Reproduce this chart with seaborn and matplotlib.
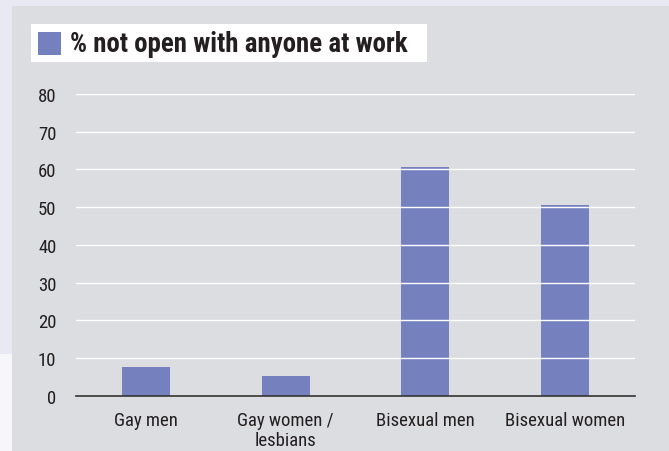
import matplotlib
matplotlib.use("Agg")
import os
import matplotlib.pyplot as plt
from matplotlib.patches import Rectangle
from matplotlib import font_manager
from matplotlib.font_manager import FontProperties
import seaborn as sns
import pandas as pd

# Data
categories = ["Gay men", "Gay women /\nlesbians", "Bisexual men", "Bisexual women"]
values = [7.6, 5.3, 60.6, 50.5]
series_name = "% not open with anyone at work"
y_ticks = [0, 10, 20, 30, 40, 50, 60, 70, 80]

BAR = "#7581bf"
PANEL = "#dcdde0"
OUTER = "#e9e9f3"
INK = "#231f20"

sns.set_theme(style="white")
plt.rcParams["font.family"] = ["DejaVu Sans"]


def find_font(candidates):
    """Return the path of the first installed font file whose name matches."""
    files = [f.fname for f in font_manager.fontManager.ttflist]
    for cand in candidates:
        for path in files:
            if os.path.basename(path).lower() == cand.lower():
                return path
    return None


regular_path = find_font(["LiberationSansNarrow-Regular.ttf", "RobotoCondensed-Regular.ttf",
                          "OpenSans_Condensed-Regular.ttf", "DejaVuSansCondensed.ttf"])
bold_path = find_font(["LiberationSansNarrow-Bold.ttf", "RobotoCondensed-Bold.ttf",
                       "OpenSans_Condensed-Bold.ttf", "DejaVuSansCondensed-Bold.ttf"])
reg_fp = FontProperties(fname=regular_path) if regular_path else FontProperties(family="DejaVu Sans")
bold_fp = FontProperties(fname=bold_path) if bold_path else FontProperties(family="DejaVu Sans", weight="bold")

W, H = 669, 452
fig = plt.figure(figsize=(W / 100, H / 100), dpi=100)
fig.patch.set_facecolor(OUTER)


def px_rect(x0, y0, x1, y1, **kw):
    """Rectangle given in figure pixel coordinates (origin top-left)."""
    return Rectangle((x0 / W, 1 - y1 / H), (x1 - x0) / W, (y1 - y0) / H,
                     transform=fig.transFigure, figure=fig, **kw)


# Grey panel and page strip
fig.patches.append(px_rect(12, 7, W, H, facecolor=PANEL, edgecolor="none", zorder=-2))
fig.patches.append(px_rect(0, 355, 12, H, facecolor="#f7f7fa", edgecolor="none", zorder=-2))

# Legend box
fig.patches.append(px_rect(31, 25, 427, 62.7, facecolor="white", edgecolor="none", zorder=-1))
fig.patches.append(px_rect(38, 32.7, 61, 55.7, facecolor=BAR, edgecolor="none", zorder=-1))
title_fp = bold_fp.copy()
title_fp.set_size(19.4)
fig.text(70 / W, 1 - 44.5 / H, series_name, fontproperties=title_fp,
         color=INK, va="center", ha="left")

# Plot area
ax = fig.add_axes([76 / W, 1 - 396.8 / H, 559 / W, (396.8 - 95) / H])
ax.set_facecolor("none")
ax.set_zorder(5)

df = pd.DataFrame({"category": categories, "value": values})
sns.barplot(data=df, x="category", y="value", color=BAR, saturation=1,
            width=0.343, ax=ax, zorder=2, edgecolor="none")

ax.set_xlim(-0.5, len(categories) - 0.5)
ax.set_ylim(0, 80)
ax.set_xlabel("")
ax.set_ylabel("")

# White gridlines over bars
for t in y_ticks[1:]:
    ax.axhline(t, color="white", linewidth=1.0, zorder=3)

for side in ["left", "right", "top"]:
    ax.spines[side].set_visible(False)
ax.spines["bottom"].set_color("#333333")
ax.spines["bottom"].set_linewidth(1.2)
ax.spines["bottom"].set_zorder(4)

label_fp = reg_fp.copy()
label_fp.set_size(13.5)

ax.set_yticks(y_ticks)
ax.set_yticklabels([str(t) for t in y_ticks], fontproperties=label_fp)
ax.tick_params(axis="y", length=0, pad=14, labelcolor=INK)

# Category labels at bar centres, separator ticks between groups
ax.set_xticks(range(len(categories)))
ax.set_xticklabels(categories, fontproperties=label_fp, color=INK, linespacing=1.15)
ax.tick_params(axis="x", which="major", length=0, pad=11)
ax.set_xticks([i - 0.5 for i in range(len(categories) + 1)], minor=True)
ax.tick_params(axis="x", which="minor", direction="in", length=12,
               width=1.2, color="#333333")

fig.savefig("out.png", dpi=100, facecolor=fig.get_facecolor())
